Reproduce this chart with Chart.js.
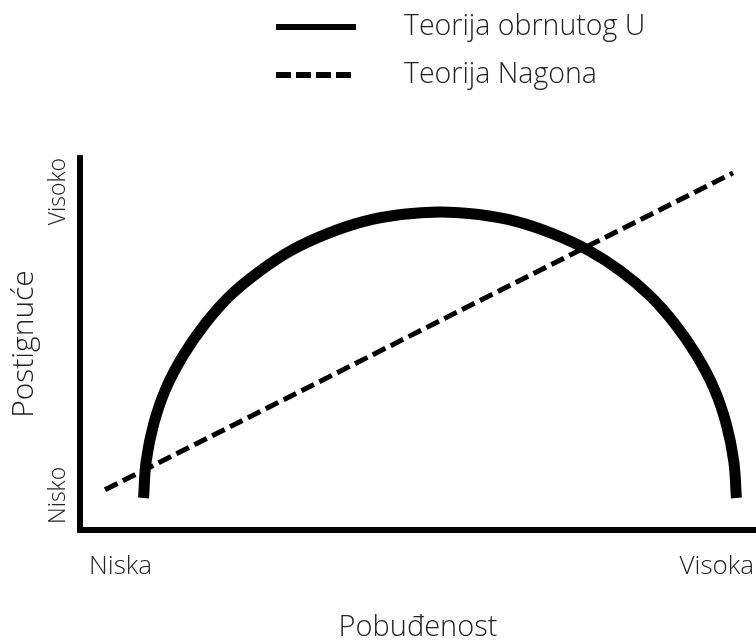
<!DOCTYPE html>
<html>
<head>
<meta charset="utf-8">
<script src="https://cdn.jsdelivr.net/npm/chart.js@4/dist/chart.umd.min.js"></script>
<style>
    html, body { margin: 0; padding: 0; background: #fff; }
    #wrap { width: 756px; height: 641px; position: relative; }
</style>
</head>
<body>
<div id="wrap"><canvas id="grafik"></canvas></div>
<script>
// Teorija obrnutog U (tocke ocitane sa slike, skala 0-100)
const obrnutoUX = [9.4, 9.8, 10.9, 12.7, 15.3, 18.5, 22.2, 26.6, 31.3, 36.5, 41.9, 47.5, 53.3,
                   59.0, 64.6, 70.0, 75.2, 80.0, 84.3, 88.0, 91.2, 93.8, 95.6, 96.7, 97.1];
const obrnutoUY = [8.6, 18.6, 28.5, 38.0, 47.0, 55.4, 63.0, 69.6, 75.2, 79.6, 82.9, 84.8, 85.5,
                   84.8, 82.9, 79.6, 75.2, 69.6, 63.0, 55.4, 47.0, 38.0, 28.5, 18.6, 8.6];

// Teorija Nagona (ravna crta)
const nagonX = [3.7, 96.6];
const nagonY = [10.8, 96.0];

const xOznake = ['Niska', 'Visoka'];
const xVrijednosti = [6, 94.2];
const yOznake = ['Nisko', 'Visoko'];
const yVrijednosti = [17, 100];

const nazivi = ['Teorija obrnutog U', 'Teorija Nagona'];

const FONT = "'Open Sans', 'Noto Sans', sans-serif";
const TEKST = '#222';

const uTocke = (xs, ys) => xs.map((x, i) => ({ x, y: ys[i] }));

// legenda: dvije crte jedna ispod druge, poravnate lijevo
const legendaPlugin = {
    id: 'legendaRuta',
    afterDraw(chart, args, opts) {
        const ctx = chart.ctx;
        ctx.save();
        chart.data.datasets.forEach((ds, i) => {
            const y = opts.top + i * opts.razmak;
            ctx.beginPath();
            ctx.lineWidth = opts.debljina;
            ctx.strokeStyle = ds.borderColor;
            ctx.setLineDash(ds.borderDash ? opts.crtice : []);
            ctx.moveTo(opts.left, y);
            ctx.lineTo(opts.left + opts.duljina, y);
            ctx.stroke();
            ctx.setLineDash([]);
            ctx.fillStyle = TEKST;
            ctx.font = `300 ${opts.velicina}px ${FONT}`;
            ctx.textBaseline = 'middle';
            ctx.fillText(ds.label, opts.left + opts.duljina + opts.gap, y);
        });
        ctx.restore();
    }
};

const ctx = document.getElementById('grafik').getContext('2d');
new Chart(ctx, {
    type: 'scatter',
    data: {
        datasets: [{
            label: nazivi[0],
            data: uTocke(obrnutoUX, obrnutoUY),
            showLine: true,
            borderColor: '#000',
            borderWidth: 11,
            tension: 0.4,
            pointRadius: 0,
            fill: false
        }, {
            label: nazivi[1],
            data: uTocke(nagonX, nagonY),
            showLine: true,
            borderColor: '#000',
            borderWidth: 5,
            borderDash: [14, 6],
            pointRadius: 0,
            fill: false
        }]
    },
    options: {
        responsive: true,
        maintainAspectRatio: false,
        animation: false,
        layout: { padding: { top: 158, right: 0, bottom: 0, left: 0 } },
        plugins: {
            legend: { display: false },
            tooltip: { enabled: false },
            legendaRuta: { left: 276, top: 27, razmak: 48, duljina: 80, gap: 48, debljina: 6, crtice: [15, 5], velicina: 28.5 }
        },
        scales: {
            x: {
                type: 'linear', min: 0, max: 100,
                grid: { display: false, drawTicks: false },
                border: { display: true, color: '#000', width: 6 },
                afterBuildTicks: s => { s.ticks = xVrijednosti.map(v => ({ value: v })); },
                afterFit: s => { s.height = 111; s.paddingLeft = 0; s.paddingRight = 0; },
                ticks: {
                    padding: 21, color: TEKST,
                    font: { family: FONT, size: 26, weight: 300, lineHeight: 1.2 },
                    callback: (v, i) => xOznake[i]
                },
                title: {
                    display: true, text: 'Pobuđenost', color: TEKST,
                    font: { family: FONT, size: 29, weight: 300, lineHeight: 1 },
                    padding: { top: 30, bottom: -1 }
                }
            },
            y: {
                type: 'linear', min: 0, max: 100,
                grid: { display: false, drawTicks: false },
                border: { display: true, color: '#000', width: 6 },
                afterBuildTicks: s => { s.ticks = yVrijednosti.map(v => ({ value: v })); },
                afterFit: s => { s.width = 80; s.paddingTop = 0; s.paddingBottom = 0; },
                ticks: {
                    padding: 22, color: TEKST, minRotation: 90, maxRotation: 90,
                    font: { family: FONT, size: 23, weight: 300, lineHeight: 1.2 },
                    callback: (v, i) => yOznake[i]
                },
                title: {
                    display: true, text: 'Postignuće', color: TEKST,
                    font: { family: FONT, size: 30, weight: 300, lineHeight: 1 },
                    padding: { top: 9, bottom: 0 }
                }
            }
        }
    },
    plugins: [legendaPlugin]
});
</script>
</body>
</html>
